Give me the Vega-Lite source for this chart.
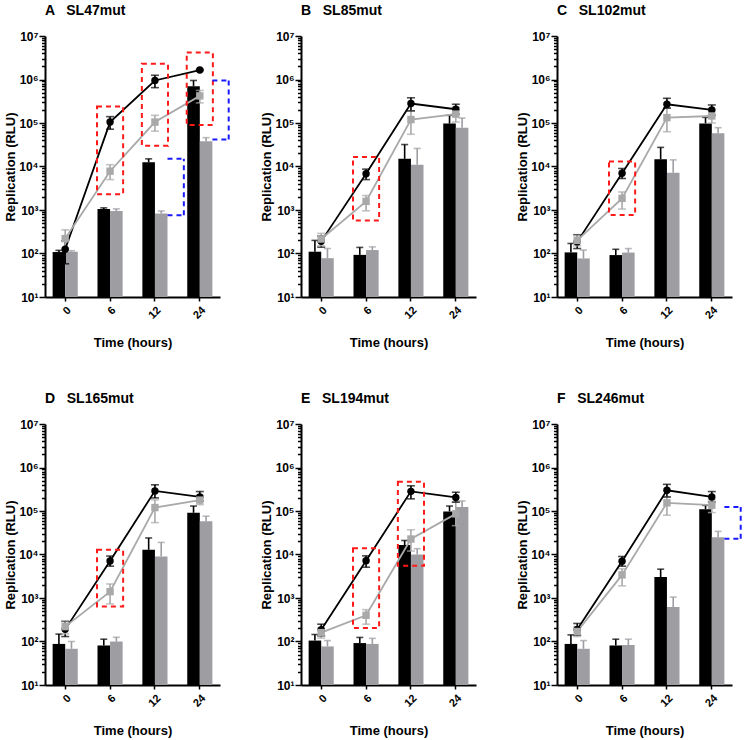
{
  "$schema": "https://vega.github.io/schema/vega-lite/v6.json",
  "padding": {"left": 4, "top": 4, "right": 4, "bottom": 4},
  "background": "white",
  "data": {"values": [
    {"panel": "A  SL47mut", "kind": "bar", "time": "0", "series": "WT", "v": 108, "hi": 118},
    {"panel": "A  SL47mut", "kind": "bar", "time": "0", "series": "mut", "v": 110, "hi": 116},
    {"panel": "A  SL47mut", "kind": "bar", "time": "6", "series": "WT", "v": 1050, "hi": 1120},
    {"panel": "A  SL47mut", "kind": "bar", "time": "6", "series": "mut", "v": 950, "hi": 1060},
    {"panel": "A  SL47mut", "kind": "bar", "time": "12", "series": "WT", "v": 12500, "hi": 15000},
    {"panel": "A  SL47mut", "kind": "bar", "time": "12", "series": "mut", "v": 830, "hi": 950},
    {"panel": "A  SL47mut", "kind": "bar", "time": "24", "series": "WT", "v": 700000, "hi": 950000},
    {"panel": "A  SL47mut", "kind": "bar", "time": "24", "series": "mut", "v": 38000, "hi": 46000},
    {"panel": "A  SL47mut", "kind": "pt", "time": "0", "series": "WT", "v": 125, "lo": 58, "hi": 195},
    {"panel": "A  SL47mut", "kind": "pt", "time": "0", "series": "mut", "v": 220, "lo": 130, "hi": 350},
    {"panel": "A  SL47mut", "kind": "pt", "time": "6", "series": "WT", "v": 105000, "lo": 72000, "hi": 140000},
    {"panel": "A  SL47mut", "kind": "pt", "time": "6", "series": "mut", "v": 7800, "lo": 5000, "hi": 11000},
    {"panel": "A  SL47mut", "kind": "pt", "time": "12", "series": "WT", "v": 950000, "lo": 650000, "hi": 1250000},
    {"panel": "A  SL47mut", "kind": "pt", "time": "12", "series": "mut", "v": 105000, "lo": 65000, "hi": 150000},
    {"panel": "A  SL47mut", "kind": "pt", "time": "24", "series": "WT", "v": 1650000, "lo": 1600000, "hi": 1700000},
    {"panel": "A  SL47mut", "kind": "pt", "time": "24", "series": "mut", "v": 420000, "lo": 290000, "hi": 560000},
    {"panel": "A  SL47mut", "kind": "red", "time": "6", "lo": 2300, "hi": 240000},
    {"panel": "A  SL47mut", "kind": "red", "time": "12", "lo": 30000, "hi": 2300000},
    {"panel": "A  SL47mut", "kind": "red", "time": "24", "lo": 90000, "hi": 4200000},
    {"panel": "A  SL47mut", "kind": "blue", "time": "12", "lo": 760, "hi": 15000},
    {"panel": "A  SL47mut", "kind": "blue", "time": "24", "lo": 42000, "hi": 950000},

    {"panel": "B  SL85mut", "kind": "bar", "time": "0", "series": "WT", "v": 110, "hi": 200},
    {"panel": "B  SL85mut", "kind": "bar", "time": "0", "series": "mut", "v": 78, "hi": 130},
    {"panel": "B  SL85mut", "kind": "bar", "time": "6", "series": "WT", "v": 93, "hi": 138},
    {"panel": "B  SL85mut", "kind": "bar", "time": "6", "series": "mut", "v": 120, "hi": 142},
    {"panel": "B  SL85mut", "kind": "bar", "time": "12", "series": "WT", "v": 15000, "hi": 32000},
    {"panel": "B  SL85mut", "kind": "bar", "time": "12", "series": "mut", "v": 11000, "hi": 26000},
    {"panel": "B  SL85mut", "kind": "bar", "time": "24", "series": "WT", "v": 97000, "hi": 150000},
    {"panel": "B  SL85mut", "kind": "bar", "time": "24", "series": "mut", "v": 78000, "hi": 130000},
    {"panel": "B  SL85mut", "kind": "pt", "time": "0", "series": "WT", "v": 190, "lo": 140, "hi": 250},
    {"panel": "B  SL85mut", "kind": "pt", "time": "0", "series": "mut", "v": 215, "lo": 150, "hi": 290},
    {"panel": "B  SL85mut", "kind": "pt", "time": "6", "series": "WT", "v": 6800, "lo": 5000, "hi": 8700},
    {"panel": "B  SL85mut", "kind": "pt", "time": "6", "series": "mut", "v": 1580, "lo": 960, "hi": 2150},
    {"panel": "B  SL85mut", "kind": "pt", "time": "12", "series": "WT", "v": 280000, "lo": 190000, "hi": 380000},
    {"panel": "B  SL85mut", "kind": "pt", "time": "12", "series": "mut", "v": 120000, "lo": 55000, "hi": 190000},
    {"panel": "B  SL85mut", "kind": "pt", "time": "24", "series": "WT", "v": 207000, "lo": 160000, "hi": 270000},
    {"panel": "B  SL85mut", "kind": "pt", "time": "24", "series": "mut", "v": 160000, "lo": 105000, "hi": 230000},
    {"panel": "B  SL85mut", "kind": "red", "time": "6", "lo": 570, "hi": 16500},

    {"panel": "C  SL102mut", "kind": "bar", "time": "0", "series": "WT", "v": 106, "hi": 170},
    {"panel": "C  SL102mut", "kind": "bar", "time": "0", "series": "mut", "v": 77, "hi": 120},
    {"panel": "C  SL102mut", "kind": "bar", "time": "6", "series": "WT", "v": 92, "hi": 125},
    {"panel": "C  SL102mut", "kind": "bar", "time": "6", "series": "mut", "v": 105, "hi": 130},
    {"panel": "C  SL102mut", "kind": "bar", "time": "12", "series": "WT", "v": 14600, "hi": 27500},
    {"panel": "C  SL102mut", "kind": "bar", "time": "12", "series": "mut", "v": 7200, "hi": 14200},
    {"panel": "C  SL102mut", "kind": "bar", "time": "24", "series": "WT", "v": 98000, "hi": 135000},
    {"panel": "C  SL102mut", "kind": "bar", "time": "24", "series": "mut", "v": 58000, "hi": 78000},
    {"panel": "C  SL102mut", "kind": "pt", "time": "0", "series": "WT", "v": 185, "lo": 130, "hi": 270},
    {"panel": "C  SL102mut", "kind": "pt", "time": "0", "series": "mut", "v": 200, "lo": 150, "hi": 260},
    {"panel": "C  SL102mut", "kind": "pt", "time": "6", "series": "WT", "v": 7000, "lo": 5300, "hi": 9000},
    {"panel": "C  SL102mut", "kind": "pt", "time": "6", "series": "mut", "v": 1850, "lo": 1050, "hi": 2600},
    {"panel": "C  SL102mut", "kind": "pt", "time": "12", "series": "WT", "v": 270000, "lo": 220000, "hi": 370000},
    {"panel": "C  SL102mut", "kind": "pt", "time": "12", "series": "mut", "v": 133000, "lo": 63000, "hi": 220000},
    {"panel": "C  SL102mut", "kind": "pt", "time": "24", "series": "WT", "v": 200000, "lo": 150000, "hi": 260000},
    {"panel": "C  SL102mut", "kind": "pt", "time": "24", "series": "mut", "v": 145000, "lo": 100000, "hi": 200000},
    {"panel": "C  SL102mut", "kind": "red", "time": "6", "lo": 770, "hi": 13000},

    {"panel": "D  SL165mut", "kind": "bar", "time": "0", "series": "WT", "v": 88, "hi": 148},
    {"panel": "D  SL165mut", "kind": "bar", "time": "0", "series": "mut", "v": 68, "hi": 100},
    {"panel": "D  SL165mut", "kind": "bar", "time": "6", "series": "WT", "v": 81, "hi": 113},
    {"panel": "D  SL165mut", "kind": "bar", "time": "6", "series": "mut", "v": 100, "hi": 125},
    {"panel": "D  SL165mut", "kind": "bar", "time": "12", "series": "WT", "v": 12800, "hi": 24000},
    {"panel": "D  SL165mut", "kind": "bar", "time": "12", "series": "mut", "v": 9000, "hi": 19000},
    {"panel": "D  SL165mut", "kind": "bar", "time": "24", "series": "WT", "v": 91000, "hi": 130000},
    {"panel": "D  SL165mut", "kind": "bar", "time": "24", "series": "mut", "v": 58000, "hi": 76000},
    {"panel": "D  SL165mut", "kind": "pt", "time": "0", "series": "WT", "v": 190, "lo": 130, "hi": 290},
    {"panel": "D  SL165mut", "kind": "pt", "time": "0", "series": "mut", "v": 220, "lo": 150, "hi": 300},
    {"panel": "D  SL165mut", "kind": "pt", "time": "6", "series": "WT", "v": 7100, "lo": 5400, "hi": 9200},
    {"panel": "D  SL165mut", "kind": "pt", "time": "6", "series": "mut", "v": 1400, "lo": 730, "hi": 2100},
    {"panel": "D  SL165mut", "kind": "pt", "time": "12", "series": "WT", "v": 290000, "lo": 200000, "hi": 400000},
    {"panel": "D  SL165mut", "kind": "pt", "time": "12", "series": "mut", "v": 120000, "lo": 54000, "hi": 180000},
    {"panel": "D  SL165mut", "kind": "pt", "time": "24", "series": "WT", "v": 210000, "lo": 170000, "hi": 280000},
    {"panel": "D  SL165mut", "kind": "pt", "time": "24", "series": "mut", "v": 178000, "lo": 140000, "hi": 230000},
    {"panel": "D  SL165mut", "kind": "red", "time": "6", "lo": 640, "hi": 12800},

    {"panel": "E  SL194mut", "kind": "bar", "time": "0", "series": "WT", "v": 105, "hi": 145},
    {"panel": "E  SL194mut", "kind": "bar", "time": "0", "series": "mut", "v": 77, "hi": 105},
    {"panel": "E  SL194mut", "kind": "bar", "time": "6", "series": "WT", "v": 92, "hi": 124},
    {"panel": "E  SL194mut", "kind": "bar", "time": "6", "series": "mut", "v": 88, "hi": 118},
    {"panel": "E  SL194mut", "kind": "bar", "time": "12", "series": "WT", "v": 16500, "hi": 21000},
    {"panel": "E  SL194mut", "kind": "bar", "time": "12", "series": "mut", "v": 10000, "hi": 13600},
    {"panel": "E  SL194mut", "kind": "bar", "time": "24", "series": "WT", "v": 98000, "hi": 130000},
    {"panel": "E  SL194mut", "kind": "bar", "time": "24", "series": "mut", "v": 123000, "hi": 170000},
    {"panel": "E  SL194mut", "kind": "pt", "time": "0", "series": "WT", "v": 187, "lo": 135, "hi": 250},
    {"panel": "E  SL194mut", "kind": "pt", "time": "0", "series": "mut", "v": 160, "lo": 120, "hi": 200},
    {"panel": "E  SL194mut", "kind": "pt", "time": "6", "series": "WT", "v": 7200, "lo": 5100, "hi": 9300},
    {"panel": "E  SL194mut", "kind": "pt", "time": "6", "series": "mut", "v": 400, "lo": 250, "hi": 540},
    {"panel": "E  SL194mut", "kind": "pt", "time": "12", "series": "WT", "v": 283000, "lo": 190000, "hi": 380000},
    {"panel": "E  SL194mut", "kind": "pt", "time": "12", "series": "mut", "v": 22700, "lo": 12000, "hi": 37000},
    {"panel": "E  SL194mut", "kind": "pt", "time": "24", "series": "WT", "v": 205000, "lo": 160000, "hi": 270000},
    {"panel": "E  SL194mut", "kind": "pt", "time": "24", "series": "mut", "v": 86000, "lo": 46000, "hi": 160000},
    {"panel": "E  SL194mut", "kind": "red", "time": "6", "lo": 205, "hi": 13900},
    {"panel": "E  SL194mut", "kind": "red", "time": "12", "lo": 5500, "hi": 470000},

    {"panel": "F  SL246mut", "kind": "bar", "time": "0", "series": "WT", "v": 88, "hi": 142},
    {"panel": "F  SL246mut", "kind": "bar", "time": "0", "series": "mut", "v": 68, "hi": 105},
    {"panel": "F  SL246mut", "kind": "bar", "time": "6", "series": "WT", "v": 81, "hi": 113},
    {"panel": "F  SL246mut", "kind": "bar", "time": "6", "series": "mut", "v": 83, "hi": 113},
    {"panel": "F  SL246mut", "kind": "bar", "time": "12", "series": "WT", "v": 3030, "hi": 4600},
    {"panel": "F  SL246mut", "kind": "bar", "time": "12", "series": "mut", "v": 620, "hi": 1050},
    {"panel": "F  SL246mut", "kind": "bar", "time": "24", "series": "WT", "v": 110000, "hi": 135000},
    {"panel": "F  SL246mut", "kind": "bar", "time": "24", "series": "mut", "v": 25000, "hi": 34000},
    {"panel": "F  SL246mut", "kind": "pt", "time": "0", "series": "WT", "v": 189, "lo": 140, "hi": 260},
    {"panel": "F  SL246mut", "kind": "pt", "time": "0", "series": "mut", "v": 170, "lo": 130, "hi": 220},
    {"panel": "F  SL246mut", "kind": "pt", "time": "6", "series": "WT", "v": 7000, "lo": 5400, "hi": 9000},
    {"panel": "F  SL246mut", "kind": "pt", "time": "6", "series": "mut", "v": 3400, "lo": 1900, "hi": 4700},
    {"panel": "F  SL246mut", "kind": "pt", "time": "12", "series": "WT", "v": 300000, "lo": 210000, "hi": 410000},
    {"panel": "F  SL246mut", "kind": "pt", "time": "12", "series": "mut", "v": 154000, "lo": 80000, "hi": 210000},
    {"panel": "F  SL246mut", "kind": "pt", "time": "24", "series": "WT", "v": 210000, "lo": 160000, "hi": 280000},
    {"panel": "F  SL246mut", "kind": "pt", "time": "24", "series": "mut", "v": 136000, "lo": 92000, "hi": 180000},
    {"panel": "F  SL246mut", "kind": "blue", "time": "24", "lo": 23000, "hi": 124000}
  ]},
  "facet": {
    "field": "panel", "type": "nominal",
    "header": {"title": null, "labelFont": "Liberation Sans", "labelFontSize": 14, "labelFontWeight": "bold", "labelColor": "#000", "labelAnchor": "start", "labelAlign": "left", "labelPadding": 12,
      "labelExpr": "replace(datum.label, ' ', ' \u00a0')"}
  },
  "columns": 3,
  "spacing": {"row": 42, "column": 30},
  "resolve": {"axis": {"x": "independent", "y": "independent"}},
  "spec": {
    "width": 175,
    "height": 261,
    "encoding": {
      "x": {"field": "time", "type": "ordinal", "sort": ["0", "6", "12", "24"],
        "scale": {"domain": ["0", "6", "12", "24"], "paddingInner": 0.44, "paddingOuter": 0.17},
        "axis": {"title": "Time (hours)", "labelAngle": -45, "tickSize": 4, "labelPadding": 3, "titlePadding": 16}},
      "y": {"type": "quantitative",
        "scale": {"type": "log", "domain": [10, 10000000], "nice": false},
        "axis": {"title": "Replication (RLU)", "labelOverlap": false, "labelPadding": 1, "titlePadding": 1, "labelFontSize": 12,
          "values": [10,20,30,40,50,60,70,80,90,100,200,300,400,500,600,700,800,900,1000,2000,3000,4000,5000,6000,7000,8000,9000,10000,20000,30000,40000,50000,60000,70000,80000,90000,100000,200000,300000,400000,500000,600000,700000,800000,900000,1000000,2000000,3000000,4000000,5000000,6000000,7000000,8000000,9000000,10000000],
          "labelExpr": "datum.value==10?'10¹':datum.value==100?'10²':datum.value==1000?'10³':datum.value==10000?'10⁴':datum.value==100000?'10⁵':datum.value==1000000?'10⁶':datum.value==10000000?'10⁷':''",
          "tickSize": {"condition": {"test": "indexof([10,100,1000,10000,100000,1000000,10000000], datum.value) >= 0", "value": 6}, "value": 3.5}}}
    },
    "layer": [
      {
        "transform": [{"filter": "datum.kind == 'bar'"}],
        "mark": {"type": "bar"},
        "encoding": {
          "y": {"field": "v"},
          "y2": {"datum": 10},
          "xOffset": {"field": "series", "type": "nominal", "scale": {"domain": ["WT", "mut"], "paddingInner": 0, "paddingOuter": 0}},
          "color": {"field": "series", "type": "nominal", "legend": null, "scale": {"domain": ["WT", "mut"], "range": ["#000000", "#9d9da2"]}}
        }
      },
      {
        "transform": [{"filter": "datum.kind == 'bar'"}],
        "mark": {"type": "rule", "strokeWidth": 1.6},
        "encoding": {
          "y": {"field": "v"},
          "y2": {"field": "hi"},
          "xOffset": {"field": "series", "type": "nominal"},
          "color": {"field": "series", "type": "nominal", "legend": null}
        }
      },
      {
        "transform": [{"filter": "datum.kind == 'bar'"}],
        "mark": {"type": "tick", "size": 7, "thickness": 1.6},
        "encoding": {
          "y": {"field": "hi"},
          "xOffset": {"field": "series", "type": "nominal"},
          "color": {"field": "series", "type": "nominal", "legend": null}
        }
      },
      {
        "transform": [{"filter": "datum.kind == 'pt'"}],
        "mark": {"type": "rule", "strokeWidth": 1.6},
        "encoding": {
          "y": {"field": "lo"},
          "y2": {"field": "hi"},
          "stroke": {"field": "series", "type": "nominal", "legend": null, "scale": {"domain": ["WT", "mut"], "range": ["#000000", "#a9a9a9"]}}
        }
      },
      {
        "transform": [{"filter": "datum.kind == 'pt'"}],
        "mark": {"type": "tick", "size": 8, "thickness": 1.6},
        "encoding": {
          "y": {"field": "hi"},
          "fill": {"field": "series", "type": "nominal", "legend": null, "scale": {"domain": ["WT", "mut"], "range": ["#000000", "#a9a9a9"]}}
        }
      },
      {
        "transform": [{"filter": "datum.kind == 'pt'"}],
        "mark": {"type": "tick", "size": 8, "thickness": 1.6},
        "encoding": {
          "y": {"field": "lo"},
          "fill": {"field": "series", "type": "nominal", "legend": null}
        }
      },
      {
        "transform": [{"filter": "datum.kind == 'pt'"}],
        "mark": {"type": "line", "strokeWidth": 1.8},
        "encoding": {
          "y": {"field": "v"},
          "stroke": {"field": "series", "type": "nominal", "legend": null},
          "detail": {"field": "series"}
        }
      },
      {
        "transform": [{"filter": "datum.kind == 'pt'"}],
        "mark": {"type": "point", "filled": true, "opacity": 1, "size": 55},
        "encoding": {
          "y": {"field": "v"},
          "fill": {"field": "series", "type": "nominal", "legend": null},
          "shape": {"field": "series", "type": "nominal", "legend": null, "scale": {"domain": ["WT", "mut"], "range": ["circle", "square"]}}
        }
      },
      {
        "transform": [{"filter": "datum.kind == 'red'"}],
        "mark": {"type": "rect", "fill": null, "fillOpacity": 0, "stroke": "#ff1a1a", "strokeWidth": 2, "strokeDash": [5, 4]},
        "encoding": {
          "x": {"field": "time", "type": "ordinal", "bandPosition": -0.02},
          "x2": {"field": "time", "bandPosition": 1.02},
          "y": {"field": "lo"},
          "y2": {"field": "hi"}
        }
      },
      {
        "transform": [{"filter": "datum.kind == 'blue'"}],
        "mark": {"type": "rule", "stroke": "#1a1aff", "strokeWidth": 2, "strokeDash": [5, 4]},
        "encoding": {
          "x": {"field": "time", "type": "ordinal", "bandPosition": 1.0},
          "x2": {"field": "time", "bandPosition": 1.65},
          "y": {"field": "hi"}
        }
      },
      {
        "transform": [{"filter": "datum.kind == 'blue'"}],
        "mark": {"type": "rule", "stroke": "#1a1aff", "strokeWidth": 2, "strokeDash": [5, 4]},
        "encoding": {
          "x": {"field": "time", "type": "ordinal", "bandPosition": 1.0},
          "x2": {"field": "time", "bandPosition": 1.65},
          "y": {"field": "lo"}
        }
      },
      {
        "transform": [{"filter": "datum.kind == 'blue'"}],
        "mark": {"type": "rule", "stroke": "#1a1aff", "strokeWidth": 2, "strokeDash": [5, 4]},
        "encoding": {
          "x": {"field": "time", "type": "ordinal", "bandPosition": 1.65},
          "y": {"field": "lo"},
          "y2": {"field": "hi"}
        }
      }
    ]
  },
  "config": {
    "view": {"stroke": null},
    "legend": {"disable": true},
    "axis": {"grid": false, "domainColor": "#000", "domainWidth": 2, "tickColor": "#000", "tickWidth": 1.5,
      "labelFont": "Liberation Sans", "labelFontWeight": "bold", "labelFontSize": 11, "labelColor": "#000",
      "titleFont": "Liberation Sans", "titleFontWeight": "bold", "titleFontSize": 13, "titleColor": "#000"}
  }
}
